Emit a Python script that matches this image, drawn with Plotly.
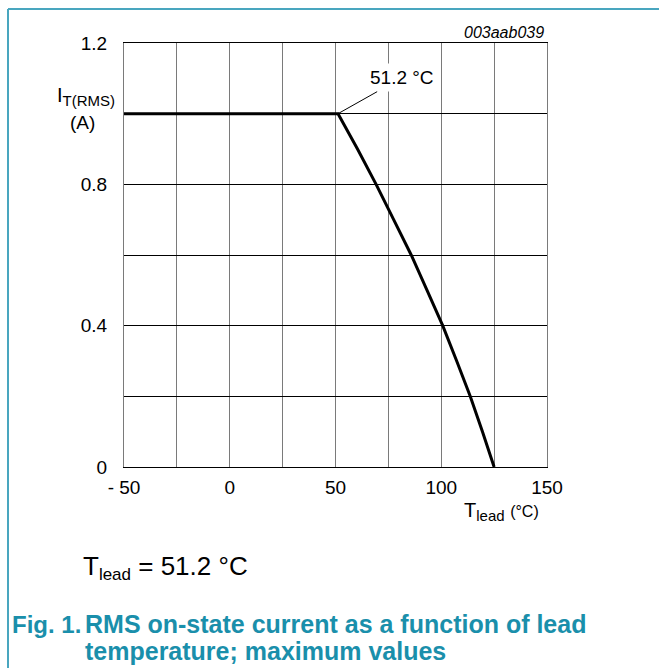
import plotly.graph_objs as go

# colours
LINE_COLOR = '#000000'
GRID_V = '#7a7a7a'
FRAME_COLOR = '#49a6bf'
CAPTION_COLOR = '#1a8fab'
FONT = 'Liberation Sans, Arial, sans-serif'

# data (lead temperature vs max RMS current)
t_lead = [-50, 51.2, 60.4, 69.2, 77.5, 85.8, 93.3, 100.7, 107.3, 113.7, 119.5, 125]
i_rms = [1.0, 1.0, 0.9, 0.8, 0.7, 0.6, 0.5, 0.4, 0.3, 0.2, 0.1, 0.0]

# ticks
x_ticks = [-50, -25, 0, 25, 50, 75, 100, 125, 150]
x_labels = ['- 50', '', '0', '', '50', '', '100', '', '150']
y_ticks = [0, 0.2, 0.4, 0.6, 0.8, 1.0, 1.2]
y_labels = ['0', '', '0.4', '', '0.8', '', '1.2']

knee_t = 51.2
knee_i = 1.0

# page geometry (pixels)
W, H = 659, 668
L, R, T, B = 124, 112, 43, 201
PW, PH = W - L - R, H - T - B


def px(x):
    return (x - L) / PW


def py(y):
    return (H - B - y) / PH


def sub(text, size):
    return "<sub><span style='font-size:%dpx'>%s</span></sub>" % (size, text)


fig = go.Figure()
fig.add_trace(go.Scatter(
    x=t_lead, y=i_rms, mode='lines',
    line=dict(color=LINE_COLOR, width=3),
    hoverinfo='skip', showlegend=False
))

fig.update_layout(
    width=W, height=H,
    margin=dict(l=L, r=R, t=T, b=B),
    paper_bgcolor='white',
    plot_bgcolor='white',
    font=dict(family=FONT, size=19, color='black'),
    xaxis=dict(
        range=[-50, 150],
        tickmode='array', tickvals=x_ticks, ticktext=x_labels,
        showgrid=True, gridcolor=GRID_V, gridwidth=1.3,
        showline=True, linecolor='black', linewidth=1, mirror=True,
        zeroline=False, ticks='', ticklabelstandoff=3,
        fixedrange=True,
    ),
    yaxis=dict(
        range=[0, 1.2],
        tickmode='array', tickvals=y_ticks, ticktext=y_labels,
        showgrid=True, gridcolor='black', gridwidth=1,
        showline=True, linecolor=GRID_V, linewidth=1.3, mirror=True,
        zeroline=False, ticks='', ticklabelstandoff=12,
        fixedrange=True,
    ),
)

# frame lines of the page (left and top)
fig.add_shape(type='line', xref='paper', yref='paper',
              x0=px(8), x1=px(W + 5), y0=py(9), y1=py(9),
              line=dict(color=FRAME_COLOR, width=2))
fig.add_shape(type='line', xref='paper', yref='paper',
              x0=px(8), x1=px(8), y0=py(9), y1=py(H + 5),
              line=dict(color=FRAME_COLOR, width=2))

annotations = [
    # knee label
    dict(x=knee_t, y=knee_i, xref='x', yref='y', text='51.2 °C',
         showarrow=True, arrowhead=0, arrowwidth=1, arrowcolor='black',
         ax=64, ay=-36, bgcolor='white', borderpad=3,
         font=dict(size=19)),
    # figure code
    dict(x=px(546), y=py(33), xref='paper', yref='paper', text='<i>003aab039</i>',
         showarrow=False, xanchor='right', yanchor='middle', font=dict(size=16)),
    # y title
    dict(x=px(55), y=py(96), xref='paper', yref='paper',
         text='I' + sub('T(RMS)', 15),
         showarrow=False, xanchor='left', yanchor='middle', font=dict(size=20)),
    dict(x=px(82), y=py(123), xref='paper', yref='paper', text='(A)',
         showarrow=False, xanchor='center', yanchor='middle', font=dict(size=19)),
    # x title
    dict(x=px(462), y=py(511), xref='paper', yref='paper',
         text='T' + sub('lead', 15) + " <span style='font-size:16px'>(°C)</span>",
         showarrow=False, xanchor='left', yanchor='middle', font=dict(size=20)),
    # condition
    dict(x=px(81), y=py(567), xref='paper', yref='paper',
         text='T' + sub('lead', 17) + ' = 51.2 °C',
         showarrow=False, xanchor='left', yanchor='middle', font=dict(size=26)),
    # caption
    dict(x=px(10), y=py(624), xref='paper', yref='paper', text='<b>Fig. 1.</b>',
         showarrow=False, xanchor='left', yanchor='middle',
         font=dict(size=24, color=CAPTION_COLOR)),
    dict(x=px(83), y=py(624), xref='paper', yref='paper',
         text='<b>RMS on-state current as a function of lead</b>',
         showarrow=False, xanchor='left', yanchor='middle',
         font=dict(size=25, color=CAPTION_COLOR)),
    dict(x=px(83), y=py(651), xref='paper', yref='paper',
         text='<b>temperature; maximum values</b>',
         showarrow=False, xanchor='left', yanchor='middle',
         font=dict(size=25, color=CAPTION_COLOR)),
]
fig.update_layout(annotations=annotations)

fig.write_html('out.html', config={'displayModeBar': False},
               post_script="document.body.style.margin='0';")
